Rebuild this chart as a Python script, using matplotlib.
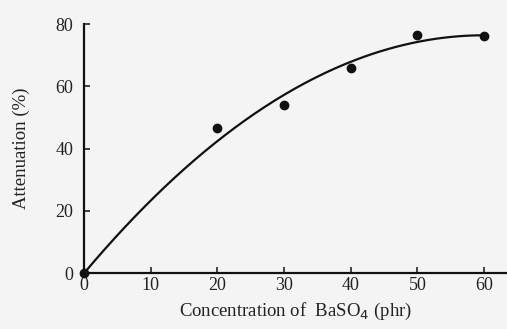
import numpy as np
import matplotlib.pyplot as plt

conc = [0, 20, 30, 40, 50, 60]
atten = [0, 46.5, 54, 66, 76.5, 76]
xticks = [0, 10, 20, 30, 40, 50, 60]
yticks = [0, 20, 40, 60, 80]

plt.rcParams['font.family'] = ['Liberation Serif', 'DejaVu Serif']

# quadratic fit through the origin
x = np.array(conc, dtype=float)
y = np.array(atten, dtype=float)
A = np.vstack([x, x**2]).T
a, b = np.linalg.lstsq(A, y, rcond=None)[0]
xs = np.linspace(0, 60, 200)

fig = plt.figure(figsize=(5.07, 3.29), dpi=100, facecolor='#f4f4f4')
ax = fig.add_axes([0.166, 0.170, 0.832, 0.757], facecolor='#f4f4f4')
ax.plot(xs, a*xs + b*xs**2, color='#111111', lw=1.6)
ax.plot(conc, atten, 'o', color='#111111', ms=6, clip_on=False)

ax.set_xlim(0, 63.3)
ax.set_ylim(0, 80)
ax.set_xticks(xticks)
ax.set_yticks(yticks)
for s in ['top', 'right']:
    ax.spines[s].set_visible(False)
for s in ['left', 'bottom']:
    ax.spines[s].set_linewidth(1.6)
    ax.spines[s].set_color('#111111')
ax.tick_params(direction='in', length=4, width=1.2, labelsize=13,
               colors='#222222')
ax.tick_params(axis='x', pad=3)
ax.tick_params(axis='y', pad=8)
ax.set_xlabel('Concentration of  BaSO$_4$ (phr)', fontsize=13.5, labelpad=5,
              color='#222222')
ax.set_ylabel('Attenuation (%)', fontsize=13.5, labelpad=18, color='#222222')

fig.savefig('out.png', dpi=100, facecolor=fig.get_facecolor())
